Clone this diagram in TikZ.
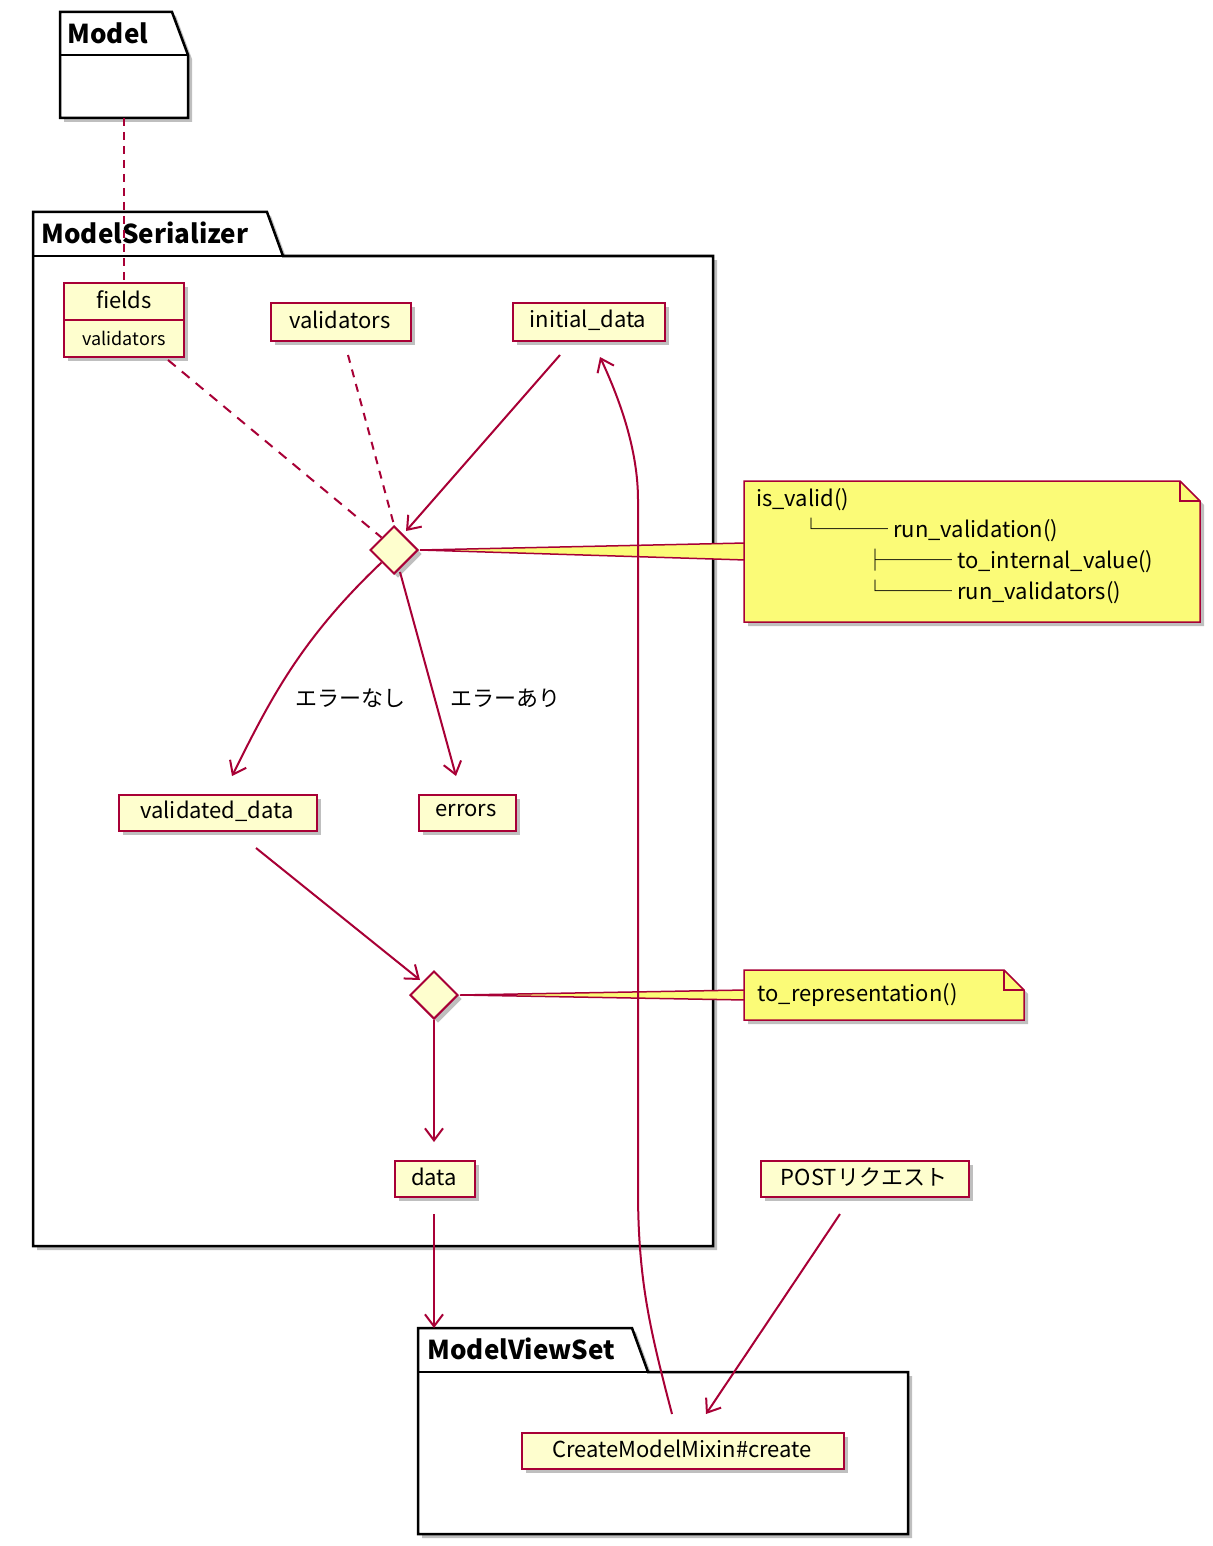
\documentclass[tikz,border=0pt]{standalone}
\usepackage{fontspec}
\setmainfont{Noto Sans CJK JP}
\usetikzlibrary{arrows.meta,shadows,shapes.geometric}
\definecolor{bd}{HTML}{A80036}
\definecolor{bx}{HTML}{FEFECE}
\definecolor{nt}{HTML}{FBFB77}
\tikzset{
 x=1pt,y=-1pt,
 shd/.style={drop shadow={shadow xshift=4pt,shadow yshift=-4pt,fill=black,opacity=.25}},
 box/.style={draw=bd,fill=bx,line width=2pt,shd,inner sep=0pt,anchor=north west},
 pkg/.style={draw=black,line width=2.5pt,fill=white,shd},
 ttl/.style={font=\bfseries\fontsize{26}{28}\selectfont,anchor=west},
 ar/.style={draw=bd,line width=2pt,-{Straight Barb[length=12pt,width=18pt,line width=2pt]}},
 ln/.style={draw=bd,line width=2pt},
 nfill/.style={draw=bd,fill=nt,line width=1.5pt},
 lab/.style={font=\fontsize{22}{31}\selectfont},
}
\newcommand{\bbox}[5]{\node[box,minimum width=#4-#2,minimum height=#5-#3] (#1) at (#2,#3) {};}
\begin{document}
\begin{tikzpicture}
\useasboundingbox (0,0) rectangle (1212,1546);
% packages
\draw[pkg] (60,55) -- (60,12) -- (172,12) -- (188,55) -- (188,118) -- (60,118) -- cycle;
\draw[line width=2.5pt] (60,55) -- (188,55);
\node[ttl] at (64,33) {Model};
\draw[pkg] (33,256) -- (33,212) -- (267,212) -- (283,256) -- (713,256) -- (713,1246) -- (33,1246) -- cycle;
\draw[line width=2.5pt] (33,256) -- (283,256);
\node[ttl] at (38,233) {ModelSerializer};
\draw[pkg] (418,1372) -- (418,1328) -- (632,1328) -- (648,1372) -- (908,1372) -- (908,1534) -- (418,1534) -- cycle;
\draw[line width=2.5pt] (418,1372) -- (648,1372);
\node[ttl] at (424,1349) {ModelViewSet};
% boxes
\draw[draw=bd,fill=bx,line width=2pt,shd] (64,283) rectangle (184,357);
\draw[bd,line width=2pt] (64,320) -- (184,320);
\node[lab] (fields) at (124,300) {fields};
\node[font=\fontsize{18}{20}\selectfont] (fv) at (124,338) {validators};
\coordinate (fieldsT) at (124,283);
\coordinate (fieldsB) at (168,360);
\bbox{val}{270}{302}{410}{340}
\node[lab] at (340,320) {validators};
\bbox{init}{512}{302}{664}{340}
\node[lab] at (588,320) {initial\_data};
\bbox{vd}{118}{794}{316}{830}
\node[lab] at (217,811) {validated\_data};
\bbox{err}{418}{794}{515}{830}
\node[lab] at (466,811) {errors};
\bbox{data}{394}{1160}{474}{1196}
\node[lab] at (434,1177) {data};
\bbox{post}{760}{1160}{968}{1196}
\node[lab] at (864,1177) {POSTリクエスト};
\bbox{cr}{521}{1432}{843}{1468}
\node[lab] at (682,1449) {CreateModelMixin\#create};
% notes wedges
\draw[nfill] (420,550) -- (746,543) -- (746,560) -- cycle;
\draw[nfill] (460,995) -- (746,990) -- (746,1000) -- cycle;
% notes
\draw[nfill,shd] (744,481) -- (1180,481) -- (1200,501) -- (1200,622) -- (744,622) -- cycle;
\draw[bd,line width=1.5pt] (1180,481) -- (1180,501) -- (1200,501);
\node[lab,anchor=north west,align=left,inner sep=0pt] (n1) at (756,488) {is\_valid()\\
\hspace*{44pt}└─── run\_validation()\\
\hspace*{108pt}├─── to\_internal\_value()\\
\hspace*{108pt}└─── run\_validators()};
\draw[nfill,shd] (744,970) -- (1004,970) -- (1024,990) -- (1024,1020) -- (744,1020) -- cycle;
\draw[bd,line width=1.5pt] (1004,970) -- (1004,990) -- (1024,990);
\node[lab,anchor=west] (n2) at (754,995) {to\_representation()};
% diamonds
\node[diamond,draw=bd,fill=bx,line width=2pt,shd,minimum width=48pt,minimum height=48pt,inner sep=0pt] (d1) at (394,550) {};
\node[diamond,draw=bd,fill=bx,line width=2pt,shd,minimum width=48pt,minimum height=48pt,inner sep=0pt] (d2) at (434,995) {};
% edges
\draw[ln,dash pattern=on 8pt off 6pt] (124,118) -- (fieldsT);
\draw[ln,dash pattern=on 10pt off 8pt] (fieldsB) -- (d1.north west);
\draw[ln,dash pattern=on 8pt off 7pt] (348,355) -- (d1.north);
\draw[ar] (560,355) -- (406,531);
\draw[ar] (d1.south west) .. controls (300,640) and (270,700) .. (232,776);
\node[lab] at (350,698) {エラーなし};
\draw[ar] (400,572) -- (456,776);
\node[lab] at (505,698) {エラーあり};
\draw[ar] (256,848) -- (420,980);
\draw[ar] (d2.south) -- (434,1142);
\draw[ar] (434,1214) -- (434,1328);
\draw[ar] (840,1214) -- (706,1414);
\draw[ar] (672,1414) .. controls (650,1330) and (638,1280) .. (638,1190) -- (638,500) .. controls (638,450) and (620,400) .. (600,357);
\end{tikzpicture}
\end{document}
